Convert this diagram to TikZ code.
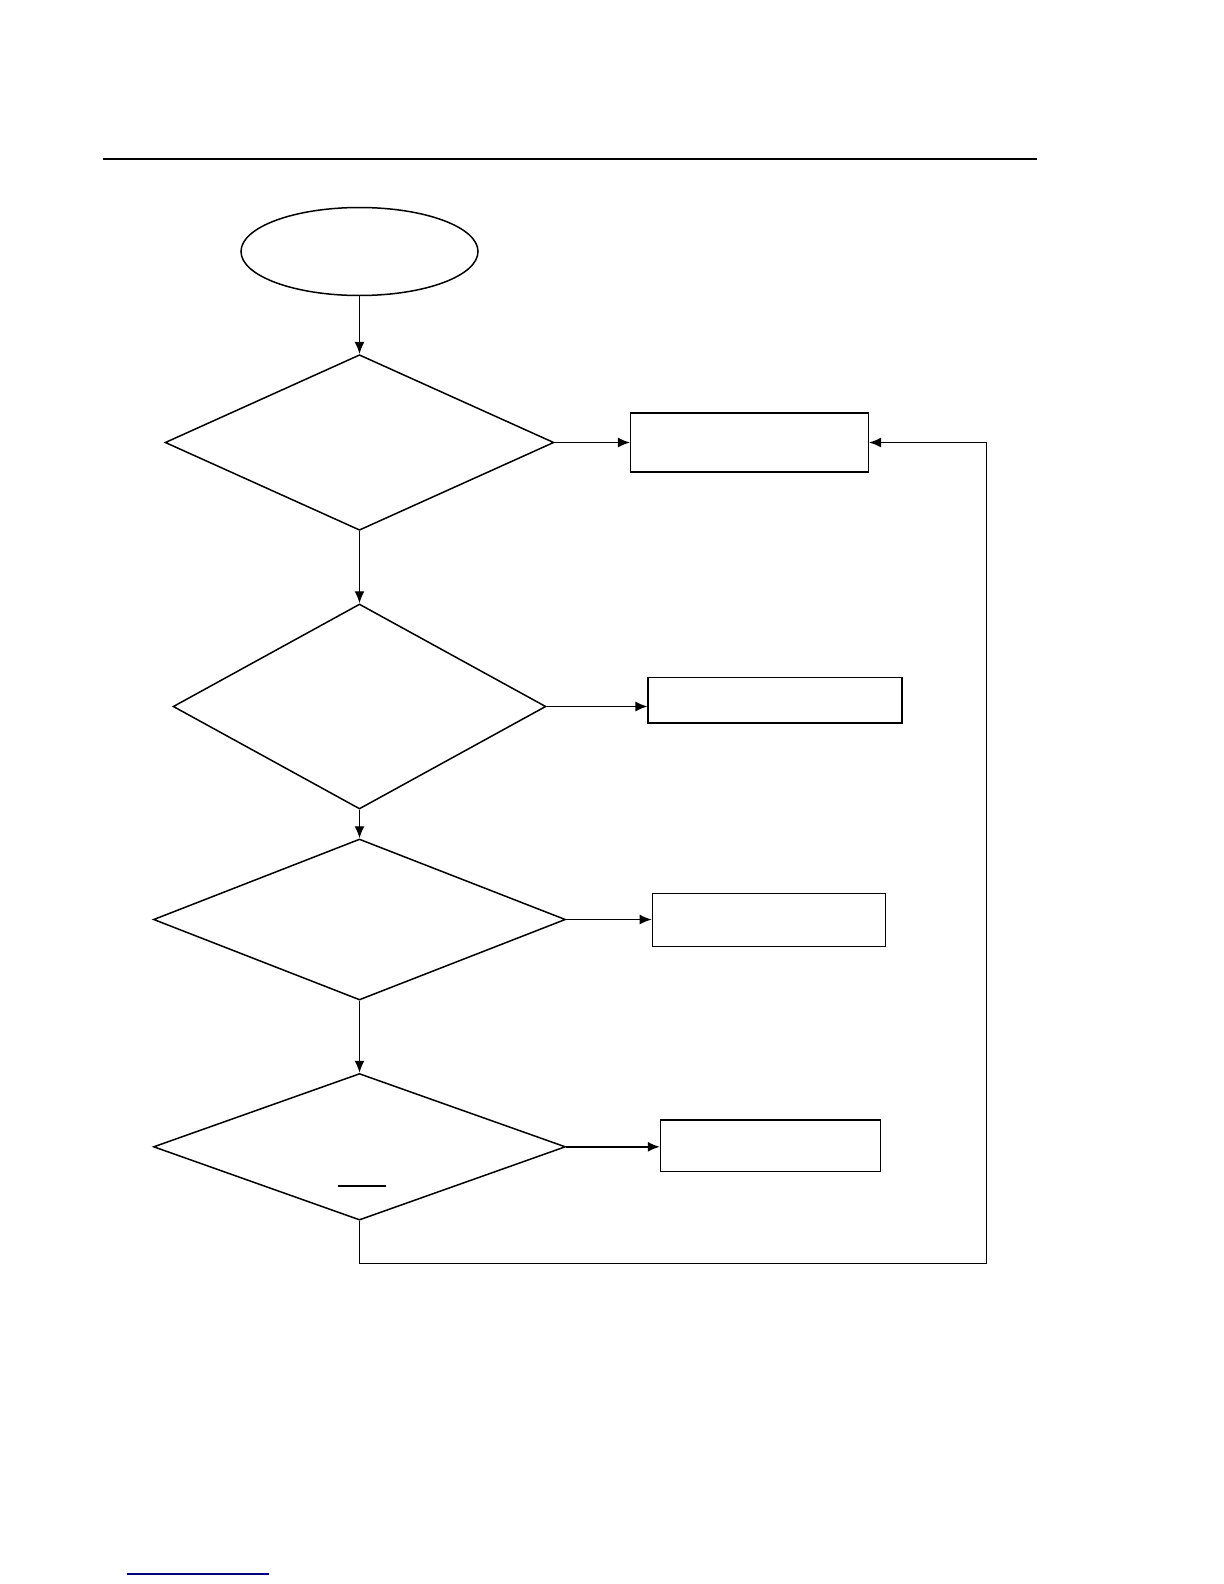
\documentclass[tikz,border=0pt]{standalone}
\usetikzlibrary{arrows.meta,shapes.geometric}

\tikzset{
  flow/.style={draw,line width=0.75pt,inner sep=0pt},
  decision/.style={flow,diamond},
  process/.style={flow,rectangle},
  terminal/.style={flow,ellipse},
  link/.style={->,line width=0.7pt}
}

\begin{document}
\begin{tikzpicture}[x=0.5pt,y=-0.5pt,>={Latex[length=6pt,width=5pt]}]
  \useasboundingbox (0,0) rectangle (1224,1584);

  % header rule
  \draw[line width=0.6pt] (103,159) -- (1037,159);

  % shapes
  \node[terminal,minimum width=118.5pt,minimum height=44pt] (start) at (359.5,251.5) {};
  \node[decision,minimum width=194.4pt,minimum height=87.8pt] (d1) at (359.5,442.5) {};
  \node[decision,minimum width=186.4pt,minimum height=102.5pt] (d2) at (359.5,706.5) {};
  \node[decision,minimum width=206pt,minimum height=80.5pt] (d3) at (359.5,919.5) {};
  \node[decision,minimum width=206pt,minimum height=73.3pt] (d4) at (359.5,1146.8) {};

  \node[process,minimum width=118.8pt,minimum height=29.3pt] (b1) at (749.5,442.5) {};
  \node[process,minimum width=126.8pt,minimum height=22.7pt] (b2) at (775,700.3) {};
  \node[process,minimum width=116.6pt,minimum height=26.3pt] (b3) at (769,920) {};
  \node[process,minimum width=110pt,minimum height=25.8pt] (b4) at (770.5,1145.8) {};

  \coordinate (loop) at (986.5,1263.4);

  % main line
  \draw[link] (start) -- (d1);
  \draw[link] (d1) -- (d2);
  \draw[link] (d2) -- (d3);
  \draw[link] (d3) -- (d4);

  % side branches
  \draw[link] (d1.east) -- (d1.east -| b1.west);
  \draw[link] (d2.east) -- (d2.east -| b2.west);
  \draw[link] (d3.east) -- (d3.east -| b3.west);
  \draw[link] (d4.east) -- (d4.east -| b4.west);

  % return path
  \draw[link] (d4.south) |- (loop) |- (b1.east);

  \draw[line width=0.6pt] (338,1186) -- (386,1186);

  % footer mark
  \draw[line width=0.9pt,blue!50!black] (127,1574) -- (269,1574);
\end{tikzpicture}
\end{document}
